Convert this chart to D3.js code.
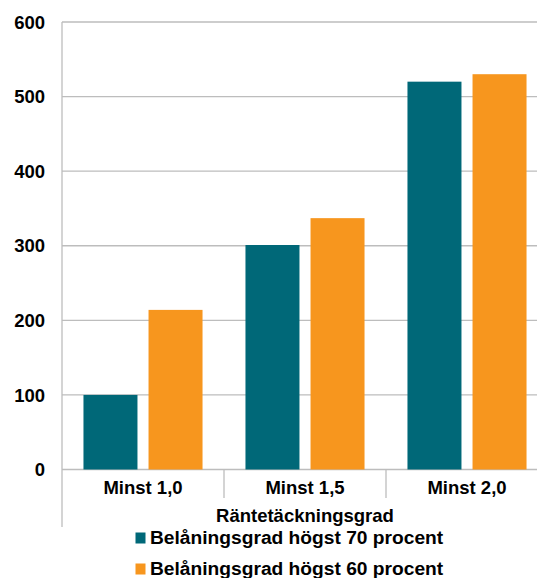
<!DOCTYPE html>
<html>
<head>
<meta charset="utf-8">
<script src="https://cdn.jsdelivr.net/npm/d3@7"></script>
<style>
  html, body { margin: 0; padding: 0; background: #fff; }
  svg text { font-family: "Liberation Sans", Arial, sans-serif; font-weight: bold; fill: #000; }
</style>
</head>
<body>
<svg id="chart" width="537" height="578"></svg>
<script>
const categories = ["Minst 1,0", "Minst 1,5", "Minst 2,0"];
const seriesNames = ["Belåningsgrad högst 70 procent", "Belåningsgrad högst 60 procent"];
const series70 = [100, 301, 520];
const series60 = [214, 337, 530];
const yTicks = [0, 100, 200, 300, 400, 500, 600];
const axisTitle = "Räntetäckningsgrad";
const colors = ["#006878", "#F7961E"];

const svg = d3.select("#chart");
const plotLeft = 62, plotRight = 548, plotTop = 22, plotBottom = 469.5;
const fs = 18.5;

const x = d3.scaleBand().domain(categories).range([plotLeft, plotRight]).paddingInner(0).paddingOuter(0);
const inner = d3.scaleBand().domain([0, 1]).range([0, x.bandwidth()]).paddingInner(0.17).paddingOuter(0.33);
const y = d3.scaleLinear().domain([0, 600]).range([plotBottom, plotTop]);

// horizontal gridlines
svg.append("g").selectAll("line").data(yTicks).join("line")
  .attr("x1", plotLeft).attr("x2", plotRight)
  .attr("y1", d => y(d)).attr("y2", d => y(d))
  .attr("stroke", "#bdbdbd").attr("stroke-width", 1.3);

// bars
const data = [series70, series60];
const g = svg.append("g");
data.forEach((vals, si) => {
  g.selectAll(null).data(categories).join("rect")
    .attr("x", (c) => x(c) + inner(si))
    .attr("width", inner.bandwidth())
    .attr("y", (c, i) => y(vals[i]))
    .attr("height", (c, i) => y(0) - y(vals[i]))
    .attr("fill", colors[si]);
});

// y axis line and tick labels
svg.append("line").attr("x1", plotLeft).attr("x2", plotLeft).attr("y1", plotTop).attr("y2", 527)
  .attr("stroke", "#bdbdbd").attr("stroke-width", 1.3);
svg.append("g").selectAll("text").data(yTicks).join("text")
  .attr("x", 45).attr("y", d => y(d)).attr("dy", "0.36em")
  .attr("text-anchor", "end").attr("font-size", fs).text(d => d);

// category dividers and labels
svg.append("g").selectAll("line").data(categories.slice(1)).join("line")
  .attr("x1", d => x(d)).attr("x2", d => x(d))
  .attr("y1", plotBottom).attr("y2", 498)
  .attr("stroke", "#bdbdbd").attr("stroke-width", 1.3);
svg.append("g").selectAll("text").data(categories).join("text")
  .attr("x", d => x(d) + x.bandwidth() / 2).attr("y", 494)
  .attr("text-anchor", "middle").attr("font-size", fs).text(d => d);

// axis title
svg.append("text").attr("x", (plotLeft + plotRight) / 2).attr("y", 522)
  .attr("text-anchor", "middle").attr("font-size", fs).text(axisTitle);

// legend
const legend = svg.append("g").selectAll("g").data(seriesNames).join("g")
  .attr("transform", (d, i) => `translate(135.5, ${543.5 + i * 31})`);
legend.append("rect").attr("x", 0).attr("y", -11).attr("width", 10).attr("height", 11)
  .attr("fill", (d, i) => colors[i]);
legend.append("text").attr("x", 14.5).attr("y", 0).attr("font-size", 19.2).text(d => d);
</script>
</body>
</html>
